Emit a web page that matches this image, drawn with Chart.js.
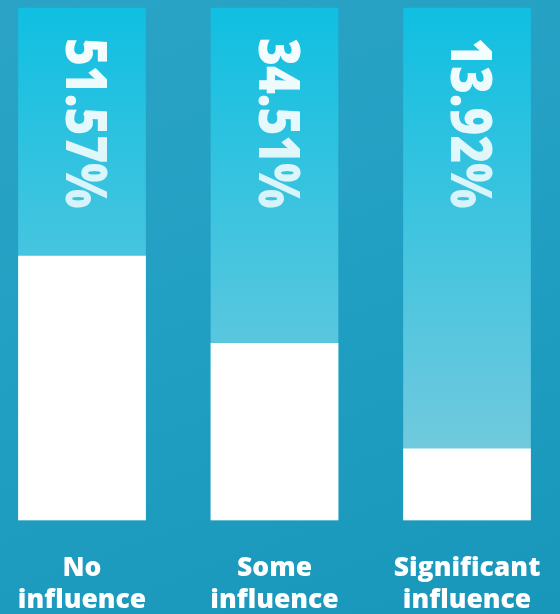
<!DOCTYPE html>
<html>
<head>
<meta charset="utf-8">
<script src="https://cdn.jsdelivr.net/npm/chart.js@4.4.0/dist/chart.umd.min.js"></script>
<style>
  html, body { margin: 0; padding: 0; }
  body {
    width: 560px; height: 614px; overflow: hidden;
    background: linear-gradient(160deg, #2aa3c6 0%, #22a0c3 45%, #1997bb 100%);
  }
  canvas { display: block; }
</style>
</head>
<body>
<canvas id="chart" width="560" height="614"></canvas>
<script>
const categories = [['No', 'influence'], ['Some', 'influence'], ['Significant', 'influence']];
const shares = [51.57, 34.51, 13.92];
const fullTrack = [100, 100, 100];

const fontFamily = "'Open Sans', 'Noto Sans', sans-serif";

// vertical gradient for the cyan track behind each bar
function trackGradient(context) {
    const area = context.chart.chartArea;
    if (!area) return '#2bbfe0';
    const g = context.chart.ctx.createLinearGradient(0, area.top, 0, area.bottom);
    g.addColorStop(0, '#10bfe1');
    g.addColorStop(1, '#80cbdd');
    return g;
}

// light swoosh in the lower right corner
const swoosh = {
    id: 'swoosh',
    beforeDraw(chart) {
        const ctx = chart.ctx;
        ctx.save();
        ctx.fillStyle = 'rgba(255, 255, 255, 0.10)';
        ctx.beginPath();
        ctx.ellipse(760, 900, 330, 320, 0, 0, Math.PI * 2);
        ctx.fill();
        ctx.restore();
    }
};

// rotated percentage labels at the top of each track
const valueLabels = {
    id: 'valueLabels',
    afterDatasetsDraw(chart) {
        const ctx = chart.ctx;
        const meta = chart.getDatasetMeta(0);
        const top = chart.chartArea.top;
        meta.data.forEach((bar, i) => {
            ctx.save();
            ctx.translate(bar.x, top + 30);
            ctx.rotate(Math.PI / 2);
            ctx.scale(0.85, 1);
            const g = ctx.createLinearGradient(0, 0, 200, 0);
            g.addColorStop(0, '#f7feff');
            g.addColorStop(1, '#d4f3fa');
            ctx.fillStyle = g;
            ctx.font = `800 56px ${fontFamily}`;
            ctx.textAlign = 'left';
            ctx.textBaseline = 'middle';
            ctx.fillText(shares[i].toFixed(2) + '%', 0, 0);
            ctx.restore();
        });
    }
};

const config = {
    type: 'bar',
    data: {
        labels: categories,
        datasets: [{
            label: 'Share',
            data: shares,
            backgroundColor: '#ffffff',
            barThickness: 127,
            grouped: false,
            order: 1,
            clip: false
        }, {
            label: 'Track',
            data: fullTrack,
            backgroundColor: trackGradient,
            barThickness: 127,
            grouped: false,
            order: 2,
            clip: false
        }]
    },
    options: {
        responsive: false,
        animation: false,
        layout: {
            padding: { top: 8, left: 82, right: 93, bottom: 0 }
        },
        plugins: {
            legend: { display: false },
            tooltip: { enabled: false }
        },
        scales: {
            x: {
                offset: false,
                grid: { display: false },
                border: { display: false },
                afterFit(scale) {
                    scale.height = 94;
                    scale.paddingLeft = 0;
                    scale.paddingRight = 0;
                },
                ticks: {
                    color: '#ffffff',
                    maxRotation: 0,
                    autoSkip: false,
                    padding: 25,
                    font: { family: fontFamily, size: 26.5, weight: '800', lineHeight: 1.2 }
                }
            },
            y: {
                display: false,
                min: 0,
                max: 100
            }
        }
    },
    plugins: [swoosh, valueLabels]
};

new Chart(document.getElementById('chart').getContext('2d'), config);
</script>
</body>
</html>
